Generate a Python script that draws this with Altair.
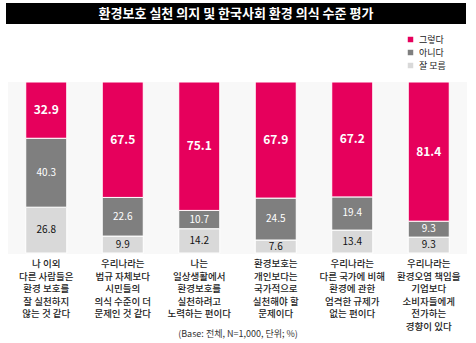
import altair as alt
import pandas as pd

categories = ["c1", "c2", "c3", "c4", "c5", "c6"]
cat_labels = [
    "나 이외\n다른 사람들은\n환경 보호를\n잘 실천하지\n않는 것 같다",
    "우리나라는\n법규 자체보다\n시민들의\n의식 수준이 더\n문제인 것 같다",
    "나는\n일상생활에서\n환경보호를\n실천하려고\n노력하는 편이다",
    "환경보호는\n개인보다는\n국가적으로\n실천해야 할\n문제이다",
    "우리나라는\n다른 국가에 비해\n환경에 관한\n엄격한 규제가\n없는 편이다",
    "우리나라는\n환경오염 책임을\n기업보다\n소비자들에게\n전가하는\n경향이 있다",
]
yes = [32.9, 67.5, 75.1, 67.9, 67.2, 81.4]
no = [40.3, 22.6, 10.7, 24.5, 19.4, 9.3]
dunno = [26.8, 9.9, 14.2, 7.6, 13.4, 9.3]
series = ["그렇다", "아니다", "잘 모름"]
colors = ["#e6005c", "#7f7f7f", "#d9d9d9"]

rows = []
for i, c in enumerate(categories):
    base = 0.0
    for s, vals in [("잘 모름", dunno), ("아니다", no), ("그렇다", yes)]:
        v = vals[i]
        rows.append({"cat": c, "series": s, "value": v, "start": base,
                     "end": base + v, "mid": base + v / 2, "label": f"{v:.1f}"})
        base += v
df = pd.DataFrame(rows)
lab_df = pd.DataFrame({"cat": categories, "text": [t.split("\n") for t in cat_labels]})

FONT = "Noto Sans CJK KR"
W, H = 476, 343

xs = alt.X("cat:N", sort=categories, axis=None,
           scale=alt.Scale(range=[8, 467], paddingInner=0.464, paddingOuter=0.232))
ys = alt.Scale(domain=[0, 100], range=[253, 82])

title_bg = alt.Chart(pd.DataFrame({"a": [0]})).mark_rect(color="#000000").encode(
    x=alt.value(6), x2=alt.value(466), y=alt.value(3), y2=alt.value(24))
title_txt = alt.Chart(pd.DataFrame({"t": ["환경보호 실천 의지 및 한국사회 환경 의식 수준 평가"]})).mark_text(
    font=FONT, fontSize=13, fontWeight="bold", color="white", align="center", baseline="middle"
).encode(x=alt.value(236), y=alt.value(14), text="t:N")

plot_bg = alt.Chart(pd.DataFrame({"a": [0]})).mark_rect(color="#f8f8f8").encode(
    x=alt.value(8), x2=alt.value(467), y=alt.value(82), y2=alt.value(254))

bars = alt.Chart(df).mark_bar(stroke="white", strokeWidth=1).encode(
    x=xs,
    y=alt.Y("start:Q", scale=ys, axis=None),
    y2="end:Q",
    color=alt.Color("series:N", scale=alt.Scale(domain=series, range=colors),
                    legend=alt.Legend(orient="none", legendX=406, legendY=35, title=None,
                                      symbolType="square", symbolSize=30, labelFont=FONT,
                                      labelFontSize=9, labelColor="#222", rowPadding=3,
                                      symbolStrokeWidth=0)),
)

top_lab = alt.Chart(df[df.series == "그렇다"]).mark_text(
    font=FONT, fontSize=12, fontWeight="bold", color="white").encode(
    x=xs, y=alt.Y("mid:Q", scale=ys), text="label:N")
mid_lab = alt.Chart(df[df.series == "아니다"]).mark_text(
    font=FONT, fontSize=10, color="white").encode(
    x=xs, y=alt.Y("mid:Q", scale=ys), text="label:N")
bot_lab = alt.Chart(df[df.series == "잘 모름"]).mark_text(
    font=FONT, fontSize=10, color="#111").encode(
    x=xs, y=alt.Y("mid:Q", scale=ys), text="label:N")

cat_txt = alt.Chart(lab_df).mark_text(
    font=FONT, fontSize=9.5, fontWeight=500, color="#222", baseline="top", lineHeight=12.5
).encode(x=xs, y=alt.value(259), text="text")

footer = alt.Chart(pd.DataFrame({"t": ["(Base: 전체, N=1,000, 단위; %)"]})).mark_text(
    font=FONT, fontSize=9, color="#333", align="center", baseline="middle"
).encode(x=alt.value(238), y=alt.value(334), text="t:N")

chart = alt.layer(title_bg, title_txt, plot_bg, bars, top_lab, mid_lab, bot_lab, cat_txt, footer).properties(
    width=W, height=H, padding=0, autosize=alt.AutoSizeParams(type="none"),
    background="white"
).configure_view(stroke=None)

chart.save("out.html", embed_options={"renderer": "svg", "actions": False})
